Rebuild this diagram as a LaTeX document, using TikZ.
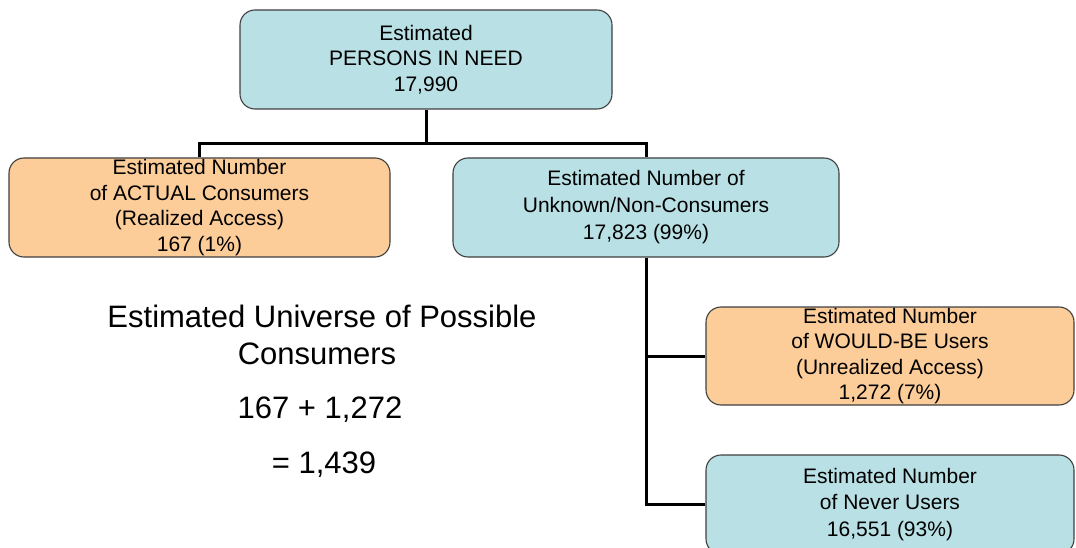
\documentclass[tikz,border=0pt]{standalone}
\usepackage{fontspec}
\setmainfont{Liberation Sans}
\usetikzlibrary{calc}
\definecolor{tealbox}{RGB}{185,224,228}
\definecolor{orangebox}{RGB}{252,204,153}
\definecolor{boxline}{RGB}{64,64,64}
\tikzset{
  box/.style={draw=boxline, line width=1.1pt, rounded corners=15pt, align=center,
    font=\fontsize{21}{25.5}\selectfont, inner sep=0pt},
  tealb/.style={box, fill=tealbox},
  orangeb/.style={box, fill=orangebox},
  conn/.style={line width=3pt, draw=black},
  bigtxt/.style={anchor=base, font=\fontsize{31}{37}\selectfont}
}
\begin{document}
\begin{tikzpicture}[x=1pt,y=-1pt]
\useasboundingbox (0,0) rectangle (1076,548);
\clip (0,0) rectangle (1076,548);
\node[tealb, minimum width=372pt, minimum height=99pt] (top) at (426,59.5)
  {Estimated\\PERSONS IN NEED\\17,990};
\node[orangeb, minimum width=381pt, minimum height=99pt] (actual) at (199.5,207.5)
  {Estimated Number\\of ACTUAL Consumers\\(Realized Access)\\167 (1\%)};
\node[tealb, minimum width=386pt, minimum height=99pt, font=\fontsize{21}{27}\selectfont] (unknown) at (646,207.5)
  {Estimated Number of\\Unknown/Non-Consumers\\17,823 (99\%)};
\node[orangeb, minimum width=368pt, minimum height=98pt] (wouldbe) at (890,356)
  {Estimated Number\\of WOULD-BE Users\\(Unrealized Access)\\1,272 (7\%)};
\node[tealb, minimum width=368pt, minimum height=99pt, font=\fontsize{21}{26.5}\selectfont] (never) at (890,504.5)
  {Estimated Number\\of Never Users\\16,551 (93\%)};
\coordinate (j) at ($(top.south)+(0,34)$);
\draw[conn] (top.south) -- (j);
\draw[conn] (actual.north) |- (j) -| (unknown.north);
\draw[conn] (unknown.south) |- (wouldbe.west);
\draw[conn] (unknown.south) |- (never.west);
\node[bigtxt] (u1) at (322,327) {Estimated Universe of Possible};
\node[bigtxt] (u2) at (317,364) {Consumers};
\node[bigtxt] (u3) at (320,418) {167 + 1,272};
\node[bigtxt] (u4) at (324,473) {= 1,439};
\end{tikzpicture}
\end{document}
